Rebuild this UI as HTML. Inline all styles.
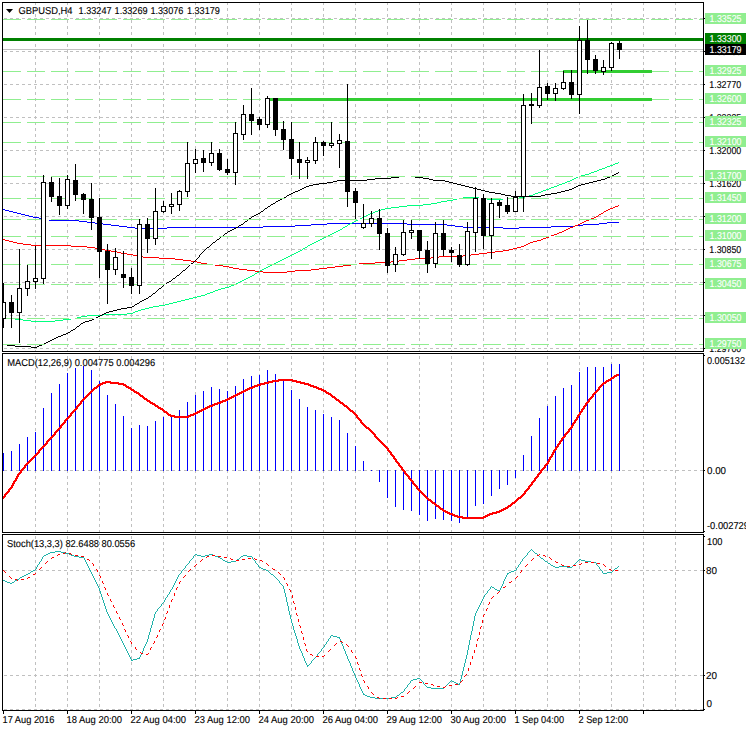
<!DOCTYPE html>
<html><head><meta charset="utf-8"><style>
html,body{margin:0;padding:0;background:#fff;}
svg{display:block;}
text{font-family:"Liberation Sans",sans-serif;font-size:10px;text-rendering:geometricPrecision;stroke-width:0.12px;}
</style></head><body>
<svg width="746" height="731" viewBox="0 0 746 731">
<rect width="746" height="731" fill="#fff"/>
<g shape-rendering="crispEdges"><g stroke="#c0c0c0" stroke-width="1"><line x1="35.5" y1="3" x2="35.5" y2="351" stroke-dasharray="3 3" stroke-dashoffset="1"/><line x1="67.5" y1="3" x2="67.5" y2="351" stroke-dasharray="3 3" stroke-dashoffset="1"/><line x1="99.5" y1="3" x2="99.5" y2="351" stroke-dasharray="3 3" stroke-dashoffset="1"/><line x1="131.5" y1="3" x2="131.5" y2="351" stroke-dasharray="3 3" stroke-dashoffset="1"/><line x1="163.5" y1="3" x2="163.5" y2="351" stroke-dasharray="3 3" stroke-dashoffset="1"/><line x1="195.5" y1="3" x2="195.5" y2="351" stroke-dasharray="3 3" stroke-dashoffset="1"/><line x1="227.5" y1="3" x2="227.5" y2="351" stroke-dasharray="3 3" stroke-dashoffset="1"/><line x1="259.5" y1="3" x2="259.5" y2="351" stroke-dasharray="3 3" stroke-dashoffset="1"/><line x1="291.5" y1="3" x2="291.5" y2="351" stroke-dasharray="3 3" stroke-dashoffset="1"/><line x1="323.5" y1="3" x2="323.5" y2="351" stroke-dasharray="3 3" stroke-dashoffset="1"/><line x1="355.5" y1="3" x2="355.5" y2="351" stroke-dasharray="3 3" stroke-dashoffset="1"/><line x1="387.5" y1="3" x2="387.5" y2="351" stroke-dasharray="3 3" stroke-dashoffset="1"/><line x1="419.5" y1="3" x2="419.5" y2="351" stroke-dasharray="3 3" stroke-dashoffset="1"/><line x1="451.5" y1="3" x2="451.5" y2="351" stroke-dasharray="3 3" stroke-dashoffset="1"/><line x1="483.5" y1="3" x2="483.5" y2="351" stroke-dasharray="3 3" stroke-dashoffset="1"/><line x1="515.5" y1="3" x2="515.5" y2="351" stroke-dasharray="3 3" stroke-dashoffset="1"/><line x1="547.5" y1="3" x2="547.5" y2="351" stroke-dasharray="3 3" stroke-dashoffset="1"/><line x1="579.5" y1="3" x2="579.5" y2="351" stroke-dasharray="3 3" stroke-dashoffset="1"/><line x1="611.5" y1="3" x2="611.5" y2="351" stroke-dasharray="3 3" stroke-dashoffset="1"/><line x1="643.5" y1="3" x2="643.5" y2="351" stroke-dasharray="3 3" stroke-dashoffset="1"/><line x1="675.5" y1="3" x2="675.5" y2="351" stroke-dasharray="3 3" stroke-dashoffset="1"/><line x1="35.5" y1="354" x2="35.5" y2="532" stroke-dasharray="3 3" stroke-dashoffset="4"/><line x1="67.5" y1="354" x2="67.5" y2="532" stroke-dasharray="3 3" stroke-dashoffset="4"/><line x1="99.5" y1="354" x2="99.5" y2="532" stroke-dasharray="3 3" stroke-dashoffset="4"/><line x1="131.5" y1="354" x2="131.5" y2="532" stroke-dasharray="3 3" stroke-dashoffset="4"/><line x1="163.5" y1="354" x2="163.5" y2="532" stroke-dasharray="3 3" stroke-dashoffset="4"/><line x1="195.5" y1="354" x2="195.5" y2="532" stroke-dasharray="3 3" stroke-dashoffset="4"/><line x1="227.5" y1="354" x2="227.5" y2="532" stroke-dasharray="3 3" stroke-dashoffset="4"/><line x1="259.5" y1="354" x2="259.5" y2="532" stroke-dasharray="3 3" stroke-dashoffset="4"/><line x1="291.5" y1="354" x2="291.5" y2="532" stroke-dasharray="3 3" stroke-dashoffset="4"/><line x1="323.5" y1="354" x2="323.5" y2="532" stroke-dasharray="3 3" stroke-dashoffset="4"/><line x1="355.5" y1="354" x2="355.5" y2="532" stroke-dasharray="3 3" stroke-dashoffset="4"/><line x1="387.5" y1="354" x2="387.5" y2="532" stroke-dasharray="3 3" stroke-dashoffset="4"/><line x1="419.5" y1="354" x2="419.5" y2="532" stroke-dasharray="3 3" stroke-dashoffset="4"/><line x1="451.5" y1="354" x2="451.5" y2="532" stroke-dasharray="3 3" stroke-dashoffset="4"/><line x1="483.5" y1="354" x2="483.5" y2="532" stroke-dasharray="3 3" stroke-dashoffset="4"/><line x1="515.5" y1="354" x2="515.5" y2="532" stroke-dasharray="3 3" stroke-dashoffset="4"/><line x1="547.5" y1="354" x2="547.5" y2="532" stroke-dasharray="3 3" stroke-dashoffset="4"/><line x1="579.5" y1="354" x2="579.5" y2="532" stroke-dasharray="3 3" stroke-dashoffset="4"/><line x1="611.5" y1="354" x2="611.5" y2="532" stroke-dasharray="3 3" stroke-dashoffset="4"/><line x1="643.5" y1="354" x2="643.5" y2="532" stroke-dasharray="3 3" stroke-dashoffset="4"/><line x1="675.5" y1="354" x2="675.5" y2="532" stroke-dasharray="3 3" stroke-dashoffset="4"/><line x1="35.5" y1="535" x2="35.5" y2="710" stroke-dasharray="3 3" stroke-dashoffset="5"/><line x1="67.5" y1="535" x2="67.5" y2="710" stroke-dasharray="3 3" stroke-dashoffset="5"/><line x1="99.5" y1="535" x2="99.5" y2="710" stroke-dasharray="3 3" stroke-dashoffset="5"/><line x1="131.5" y1="535" x2="131.5" y2="710" stroke-dasharray="3 3" stroke-dashoffset="5"/><line x1="163.5" y1="535" x2="163.5" y2="710" stroke-dasharray="3 3" stroke-dashoffset="5"/><line x1="195.5" y1="535" x2="195.5" y2="710" stroke-dasharray="3 3" stroke-dashoffset="5"/><line x1="227.5" y1="535" x2="227.5" y2="710" stroke-dasharray="3 3" stroke-dashoffset="5"/><line x1="259.5" y1="535" x2="259.5" y2="710" stroke-dasharray="3 3" stroke-dashoffset="5"/><line x1="291.5" y1="535" x2="291.5" y2="710" stroke-dasharray="3 3" stroke-dashoffset="5"/><line x1="323.5" y1="535" x2="323.5" y2="710" stroke-dasharray="3 3" stroke-dashoffset="5"/><line x1="355.5" y1="535" x2="355.5" y2="710" stroke-dasharray="3 3" stroke-dashoffset="5"/><line x1="387.5" y1="535" x2="387.5" y2="710" stroke-dasharray="3 3" stroke-dashoffset="5"/><line x1="419.5" y1="535" x2="419.5" y2="710" stroke-dasharray="3 3" stroke-dashoffset="5"/><line x1="451.5" y1="535" x2="451.5" y2="710" stroke-dasharray="3 3" stroke-dashoffset="5"/><line x1="483.5" y1="535" x2="483.5" y2="710" stroke-dasharray="3 3" stroke-dashoffset="5"/><line x1="515.5" y1="535" x2="515.5" y2="710" stroke-dasharray="3 3" stroke-dashoffset="5"/><line x1="547.5" y1="535" x2="547.5" y2="710" stroke-dasharray="3 3" stroke-dashoffset="5"/><line x1="579.5" y1="535" x2="579.5" y2="710" stroke-dasharray="3 3" stroke-dashoffset="5"/><line x1="611.5" y1="535" x2="611.5" y2="710" stroke-dasharray="3 3" stroke-dashoffset="5"/><line x1="643.5" y1="535" x2="643.5" y2="710" stroke-dasharray="3 3" stroke-dashoffset="5"/><line x1="675.5" y1="535" x2="675.5" y2="710" stroke-dasharray="3 3" stroke-dashoffset="5"/><line x1="3" y1="18.5" x2="703" y2="18.5" stroke-dasharray="3 3" stroke-dashoffset="5"/><line x1="3" y1="51.5" x2="703" y2="51.5" stroke-dasharray="3 3" stroke-dashoffset="5"/><line x1="3" y1="84.5" x2="703" y2="84.5" stroke-dasharray="3 3" stroke-dashoffset="5"/><line x1="3" y1="117.5" x2="703" y2="117.5" stroke-dasharray="3 3" stroke-dashoffset="5"/><line x1="3" y1="150.5" x2="703" y2="150.5" stroke-dasharray="3 3" stroke-dashoffset="5"/><line x1="3" y1="183.5" x2="703" y2="183.5" stroke-dasharray="3 3" stroke-dashoffset="5"/><line x1="3" y1="216.5" x2="703" y2="216.5" stroke-dasharray="3 3" stroke-dashoffset="5"/><line x1="3" y1="249.5" x2="703" y2="249.5" stroke-dasharray="3 3" stroke-dashoffset="5"/><line x1="3" y1="282.5" x2="703" y2="282.5" stroke-dasharray="3 3" stroke-dashoffset="5"/><line x1="3" y1="315.5" x2="703" y2="315.5" stroke-dasharray="3 3" stroke-dashoffset="5"/><line x1="3" y1="348.5" x2="703" y2="348.5" stroke-dasharray="3 3" stroke-dashoffset="5"/><line x1="3" y1="470.5" x2="703" y2="470.5" stroke-dasharray="3 3" stroke-dashoffset="5"/><line x1="3" y1="570.5" x2="703" y2="570.5" stroke-dasharray="3 3" stroke-dashoffset="5"/><line x1="3" y1="675.5" x2="703" y2="675.5" stroke-dasharray="3 3" stroke-dashoffset="5"/><line x1="3" y1="709.5" x2="703" y2="709.5" stroke-dasharray="3 3" stroke-dashoffset="5"/></g><path fill="#fff" d="M579 44h1v3h-1zM611 44h1v3h-1zM579 50h1v1h-1zM611 50h1v1h-1zM579 51h2v1h-2zM610 51h3v1h-3zM579 52h1v1h-1zM611 52h1v1h-1zM579 56h1v3h-1zM611 56h1v3h-1zM579 62h1v3h-1zM611 62h1v3h-1zM579 68h1v3h-1zM579 74h1v3h-1zM579 80h1v3h-1zM562 84h3v1h-3zM580 84h1v1h-1zM579 86h1v3h-1zM579 92h1v2h-1zM244 117h1v1h-1zM268 117h1v1h-1zM522 117h1v1h-1zM522 150h1v1h-1zM316 150h1v1h-1zM234 150h1v1h-1zM195 160h1v1h-1zM67 182h1v1h-1zM42 183h1v1h-1zM522 183h1v1h-1zM66 183h2v1h-2zM186 183h1v1h-1zM67 184h1v1h-1zM67 188h1v3h-1zM67 194h1v3h-1zM515 200h1v3h-1zM67 200h1v3h-1zM515 206h1v3h-1zM163 207h1v2h-1zM42 216h1v1h-1zM154 216h3v1h-3zM474 216h1v1h-1zM490 216h3v1h-3zM138 249h1v1h-1zM402 249h1v1h-1zM466 249h3v1h-3zM436 249h1v1h-1zM42 249h1v1h-1zM35 279h1v2h-1zM28 282h1v1h-1zM138 282h1v1h-1zM4 315h1v1h-1z"/><path fill="#000000" d="M2 2h702v1h-702zM703 3h1v15h-1zM703 18h2v1h-2zM587 20h1v20h-1zM579 26h1v14h-1zM577 40h5v1h-5zM619 41h1v2h-1zM611 42h1v1h-1zM609 43h5v1h-5zM617 43h5v7h-5zM703 19h1v32h-1zM703 51h2v1h-2zM619 50h1v9h-1zM595 55h1v4h-1zM585 40h5v20h-5zM613 44h1v23h-1zM609 44h1v23h-1zM603 60h1v7h-1zM609 67h5v1h-5zM601 67h5v1h-5zM593 59h5v12h-5zM611 68h1v3h-1zM601 68h1v3h-1zM605 68h1v3h-1zM601 71h5v1h-5zM587 60h1v14h-1zM595 71h1v3h-1zM603 72h1v3h-1zM571 70h1v12h-1zM563 71h1v11h-1zM561 82h5v1h-5zM703 52h1v32h-1zM703 84h2v1h-2zM547 83h1v3h-1zM539 50h1v37h-1zM565 83h1v5h-1zM555 83h1v5h-1zM561 83h1v5h-1zM537 87h5v1h-5zM561 88h5v1h-5zM553 88h5v1h-5zM563 89h1v1h-1zM553 89h1v4h-1zM557 89h1v4h-1zM581 41h1v53h-1zM577 41h1v53h-1zM545 86h5v8h-5zM553 93h5v1h-5zM569 82h5v13h-5zM577 94h5v1h-5zM267 96h1v2h-1zM571 95h1v4h-1zM265 98h5v1h-5zM547 94h1v6h-1zM555 94h1v7h-1zM531 93h1v11h-1zM537 88h1v17h-1zM541 88h1v17h-1zM523 94h1v11h-1zM529 104h5v2h-5zM537 105h5v1h-5zM521 105h5v1h-5zM539 106h1v2h-1zM251 88h1v26h-1zM579 95h1v19h-1zM243 105h1v9h-1zM241 114h5v1h-5zM703 85h1v32h-1zM703 117h2v1h-2zM259 117h1v2h-1zM249 114h5v7h-5zM269 99h1v25h-1zM265 99h1v25h-1zM531 106h1v18h-1zM257 119h5v6h-5zM265 124h5v1h-5zM267 125h1v3h-1zM283 121h1v8h-1zM273 98h5v32h-5zM259 125h1v5h-1zM235 122h1v11h-1zM241 115h1v19h-1zM245 115h1v19h-1zM233 133h5v1h-5zM251 121h1v14h-1zM241 134h5v1h-5zM275 130h1v6h-1zM291 122h1v17h-1zM281 129h5v11h-5zM339 134h1v6h-1zM243 135h1v5h-1zM347 84h1v57h-1zM337 140h5v1h-5zM315 137h1v5h-1zM323 141h1v1h-1zM331 122h1v21h-1zM341 141h1v2h-1zM337 141h1v2h-1zM313 142h5v1h-5zM329 143h5v1h-5zM337 143h5v1h-5zM333 144h1v1h-1zM329 144h1v1h-1zM321 142h5v4h-5zM329 145h5v1h-5zM331 146h1v2h-1zM703 118h1v32h-1zM283 140h1v10h-1zM703 150h2v1h-2zM211 142h1v11h-1zM219 149h1v4h-1zM209 153h5v1h-5zM323 146h1v10h-1zM203 150h1v8h-1zM289 139h5v20h-5zM299 142h1v17h-1zM195 149h1v10h-1zM317 143h1v17h-1zM313 143h1v17h-1zM307 157h1v3h-1zM193 159h5v1h-5zM313 160h5v1h-5zM305 160h5v1h-5zM209 154h1v8h-1zM213 154h1v8h-1zM309 161h1v1h-1zM305 161h1v1h-1zM187 142h1v21h-1zM201 158h5v5h-5zM297 159h5v4h-5zM197 160h1v3h-1zM193 160h1v3h-1zM305 162h5v1h-5zM209 162h5v1h-5zM315 161h1v3h-1zM193 163h5v1h-5zM185 163h5v1h-5zM211 163h1v3h-1zM339 144h1v24h-1zM227 159h1v10h-1zM217 153h5v17h-5zM219 170h1v1h-1zM237 134h1v38h-1zM233 134h1v38h-1zM203 163h1v9h-1zM195 164h1v9h-1zM225 169h5v4h-5zM233 172h5v1h-5zM618 172h1v1h-1zM616 173h2v1h-2zM291 159h1v16h-1zM227 173h1v2h-1zM614 174h2v1h-2zM612 175h2v1h-2zM391 177h8v1h-8zM607 177h3v1h-3zM415 177h8v1h-8zM299 163h1v16h-1zM307 163h1v16h-1zM67 175h1v4h-1zM375 178h16v1h-16zM605 178h2v1h-2zM423 178h6v1h-6zM345 141h5v39h-5zM75 164h1v16h-1zM367 179h8v1h-8zM429 179h4v1h-4zM65 179h5v1h-5zM601 179h4v1h-4zM597 180h4v1h-4zM337 180h30v1h-30zM433 180h12v1h-12zM43 175h1v7h-1zM51 177h1v5h-1zM333 181h4v1h-4zM593 181h4v1h-4zM445 181h4v1h-4zM703 151h1v32h-1zM449 182h4v1h-4zM41 182h5v1h-5zM589 182h4v1h-4zM327 182h6v1h-6zM453 183h4v1h-4zM703 183h2v1h-2zM319 183h8v1h-8zM585 183h4v1h-4zM235 173h1v12h-1zM457 184h4v1h-4zM581 184h4v1h-4zM313 184h6v1h-6zM309 185h4v1h-4zM461 185h4v1h-4zM578 185h3v1h-3zM306 186h3v1h-3zM576 186h2v1h-2zM465 186h4v1h-4zM475 187h1v1h-1zM574 187h2v1h-2zM304 187h2v1h-2zM469 187h4v1h-4zM473 188h4v1h-4zM572 188h2v1h-2zM302 188h2v1h-2zM477 189h4v1h-4zM300 189h2v1h-2zM569 189h3v1h-3zM189 164h1v27h-1zM185 164h1v27h-1zM355 188h1v3h-1zM481 190h4v1h-4zM179 190h1v1h-1zM565 190h4v1h-4zM298 190h2v1h-2zM345 181h5v11h-5zM295 191h3v1h-3zM485 191h4v1h-4zM185 191h5v1h-5zM561 191h4v1h-4zM177 191h5v1h-5zM489 192h6v1h-6zM557 192h4v1h-4zM293 192h2v1h-2zM291 193h2v1h-2zM83 193h1v1h-1zM495 193h6v1h-6zM551 193h6v1h-6zM73 180h5v15h-5zM545 194h6v1h-6zM501 194h4v1h-4zM289 194h2v1h-2zM525 106h1v90h-1zM521 106h1v90h-1zM59 178h1v18h-1zM515 191h1v5h-1zM541 195h4v1h-4zM287 195h2v1h-2zM505 195h6v1h-6zM49 182h5v15h-5zM187 192h1v5h-1zM511 196h30v1h-30zM286 196h1v1h-1zM475 189h1v9h-1zM483 194h1v4h-1zM284 197h2v1h-2zM513 197h5v1h-5zM91 183h1v16h-1zM473 198h5v1h-5zM81 194h5v6h-5zM280 199h2v1h-2zM75 195h1v6h-1zM278 200h2v1h-2zM51 197h1v5h-1zM499 200h1v2h-1zM276 201h2v1h-2zM353 191h5v12h-5zM491 198h1v5h-1zM275 202h1v1h-1zM181 192h1v12h-1zM177 192h1v12h-1zM171 193h1v11h-1zM273 203h2v1h-2zM489 203h5v1h-5zM65 180h1v25h-1zM69 180h1v25h-1zM507 197h1v8h-1zM271 204h2v1h-2zM177 204h5v1h-5zM169 204h5v1h-5zM57 196h5v10h-5zM163 201h1v5h-1zM497 202h5v4h-5zM173 205h1v1h-1zM169 205h1v1h-1zM65 205h5v1h-5zM270 205h1v1h-1zM347 192h1v15h-1zM161 206h5v1h-5zM268 206h2v1h-2zM169 206h5v1h-5zM267 207h1v1h-1zM67 206h1v3h-1zM265 208h2v1h-2zM264 209h1v1h-1zM155 188h1v23h-1zM517 198h1v13h-1zM513 198h1v13h-1zM179 205h1v6h-1zM165 207h1v4h-1zM161 207h1v4h-1zM263 210h1v1h-1zM523 197h1v15h-1zM505 205h5v7h-5zM161 211h5v1h-5zM153 211h5v1h-5zM261 211h2v1h-2zM513 211h5v1h-5zM163 212h1v1h-1zM260 212h1v1h-1zM83 200h1v14h-1zM171 207h1v7h-1zM507 212h1v2h-1zM258 213h2v1h-2zM59 206h1v9h-1zM256 214h2v1h-2zM703 184h1v32h-1zM254 215h2v1h-2zM99 198h1v19h-1zM703 216h2v1h-2zM252 216h2v1h-2zM89 199h5v19h-5zM499 206h1v12h-1zM379 209h1v9h-1zM371 211h1v7h-1zM251 217h1v1h-1zM355 203h1v16h-1zM249 218h2v1h-2zM369 218h5v1h-5zM247 220h1v1h-1zM245 221h2v1h-2zM363 204h1v19h-1zM373 219h1v4h-1zM369 219h1v4h-1zM244 222h1v1h-1zM147 218h1v6h-1zM139 219h1v5h-1zM243 223h1v1h-1zM369 223h5v1h-5zM361 223h5v1h-5zM137 224h5v1h-5zM241 224h2v1h-2zM239 225h2v1h-2zM361 224h1v3h-1zM371 224h1v3h-1zM365 224h1v3h-1zM238 226h1v1h-1zM236 227h2v1h-2zM361 227h5v1h-5zM234 228h2v1h-2zM363 228h1v1h-1zM91 218h1v12h-1zM411 220h1v10h-1zM232 229h2v1h-2zM467 222h1v9h-1zM230 230h2v1h-2zM409 230h5v1h-5zM477 199h1v33h-1zM473 199h1v33h-1zM403 220h1v12h-1zM465 231h5v1h-5zM413 231h1v1h-1zM409 231h1v1h-1zM228 231h2v1h-2zM443 220h1v13h-1zM435 222h1v11h-1zM387 228h1v5h-1zM473 232h5v1h-5zM409 232h5v1h-5zM401 232h5v1h-5zM227 232h1v1h-1zM377 218h5v16h-5zM225 233h2v1h-2zM433 233h5v1h-5zM489 204h1v31h-1zM493 204h1v31h-1zM224 234h1v1h-1zM481 198h5v38h-5zM489 235h5v1h-5zM223 235h1v1h-1zM157 212h1v26h-1zM153 212h1v26h-1zM220 237h1v1h-1zM145 224h5v15h-5zM411 233h1v6h-1zM219 238h1v1h-1zM153 238h5v1h-5zM217 239h2v1h-2zM216 240h1v1h-1zM215 241h1v1h-1zM213 242h2v1h-2zM212 243h1v1h-1zM155 239h1v6h-1zM211 244h1v1h-1zM210 245h1v1h-1zM209 246h1v1h-1zM207 247h2v1h-2zM703 217h1v32h-1zM483 236h1v13h-1zM206 248h1v1h-1zM441 233h5v17h-5zM379 234h1v16h-1zM427 241h1v9h-1zM451 247h1v3h-1zM205 249h1v1h-1zM703 249h2v1h-2zM417 230h5v21h-5zM107 244h1v7h-1zM204 250h1v1h-1zM97 217h5v35h-5zM475 233h1v19h-1zM203 251h1v1h-1zM147 239h1v14h-1zM449 250h5v3h-5zM202 252h1v1h-1zM405 233h1v21h-1zM401 233h1v21h-1zM395 247h1v7h-1zM201 253h1v1h-1zM459 244h1v11h-1zM200 254h1v1h-1zM401 254h5v1h-5zM393 254h5v1h-5zM443 250h1v6h-1zM403 255h1v1h-1zM115 248h1v9h-1zM199 255h1v2h-1zM198 257h1v1h-1zM113 257h5v1h-5zM491 236h1v23h-1zM419 251h1v8h-1zM197 258h1v1h-1zM196 259h1v1h-1zM195 260h1v1h-1zM451 253h1v9h-1zM194 261h1v1h-1zM437 234h1v29h-1zM433 234h1v29h-1zM193 262h1v1h-1zM469 232h1v32h-1zM465 232h1v32h-1zM425 250h5v14h-5zM397 255h1v9h-1zM393 255h1v9h-1zM433 263h5v1h-5zM191 263h2v1h-2zM457 255h5v10h-5zM465 264h5v1h-5zM393 264h5v1h-5zM385 233h5v33h-5zM467 265h1v1h-1zM189 265h1v1h-1zM459 265h1v2h-1zM188 266h1v1h-1zM435 264h1v4h-1zM187 267h1v1h-1zM113 258h1v11h-1zM117 258h1v11h-1zM186 268h1v1h-1zM105 251h5v19h-5zM113 269h5v1h-5zM185 269h1v1h-1zM183 270h2v1h-2zM395 265h1v7h-1zM182 271h1v1h-1zM427 264h1v9h-1zM387 266h1v7h-1zM181 272h1v1h-1zM123 251h1v23h-1zM180 273h1v1h-1zM115 270h1v5h-1zM179 274h1v1h-1zM177 275h2v1h-2zM131 268h1v9h-1zM176 276h1v1h-1zM45 183h1v95h-1zM41 183h1v95h-1zM35 246h1v32h-1zM99 252h1v26h-1zM121 274h5v4h-5zM175 277h1v1h-1zM173 278h2v1h-2zM41 278h5v1h-5zM33 278h5v1h-5zM172 279h1v1h-1zM27 265h1v16h-1zM37 279h1v2h-1zM33 279h1v2h-1zM171 280h1v1h-1zM703 250h1v32h-1zM169 281h2v1h-2zM33 281h5v1h-5zM25 281h5v1h-5zM2 3h1v280h-1zM703 282h2v1h-2zM167 282h2v1h-2zM43 279h1v5h-1zM166 283h1v1h-1zM141 225h1v60h-1zM137 225h1v60h-1zM129 277h5v9h-5zM163 285h1v1h-1zM137 285h5v1h-5zM162 286h1v1h-1zM19 249h1v39h-1zM123 278h1v10h-1zM25 282h1v6h-1zM29 282h1v6h-1zM161 287h1v1h-1zM35 282h1v7h-1zM159 288h2v1h-2zM17 288h5v1h-5zM25 288h5v1h-5zM158 289h1v1h-1zM157 290h1v1h-1zM156 291h1v1h-1zM155 292h1v1h-1zM131 286h1v8h-1zM139 286h1v8h-1zM153 293h2v1h-2zM152 294h1v1h-1zM27 289h1v7h-1zM151 295h1v1h-1zM149 296h2v1h-2zM148 297h1v1h-1zM146 298h2v1h-2zM144 299h2v1h-2zM142 300h2v1h-2zM2 283h2v19h-2zM11 295h1v7h-1zM140 301h2v1h-2zM2 302h4v1h-4zM139 302h1v1h-1zM107 270h1v34h-1zM137 303h2v1h-2zM135 304h2v1h-2zM134 305h1v1h-1zM132 306h2v1h-2zM127 307h5v1h-5zM121 308h6v1h-6zM117 309h4v1h-4zM113 310h4v1h-4zM21 289h1v23h-1zM17 289h1v23h-1zM109 311h4v1h-4zM9 302h5v11h-5zM106 312h3v1h-3zM17 312h5v1h-5zM104 313h2v1h-2zM703 283h1v32h-1zM102 314h2v1h-2zM703 315h2v1h-2zM100 315h2v1h-2zM98 316h2v1h-2zM2 303h1v15h-1zM5 303h1v15h-1zM96 317h2v1h-2zM2 318h4v1h-4zM92 319h2v1h-2zM89 320h3v1h-3zM85 321h4v1h-4zM83 322h2v1h-2zM81 323h2v1h-2zM80 324h1v1h-1zM79 325h1v1h-1zM77 326h2v1h-2zM11 313h1v15h-1zM2 319h2v9h-2zM76 327h1v1h-1zM75 328h1v1h-1zM73 329h2v1h-2zM71 330h2v1h-2zM70 331h1v1h-1zM68 332h2v1h-2zM66 333h2v1h-2zM63 334h3v1h-3zM61 335h2v1h-2zM58 336h3v1h-3zM56 337h2v1h-2zM54 338h2v1h-2zM52 339h2v1h-2zM50 340h2v1h-2zM48 341h2v1h-2zM19 313h1v30h-1zM46 342h2v1h-2zM44 343h2v1h-2zM39 345h3v1h-3zM7 345h8v1h-8zM37 346h2v1h-2zM15 346h16v1h-16zM703 316h1v32h-1zM31 347h6v1h-6zM703 348h2v1h-2zM2 328h1v23h-1zM703 349h1v2h-1zM2 351h702v1h-702zM2 353h702v1h-702zM703 354h1v1h-1zM703 355h2v1h-2zM703 356h1v114h-1zM703 470h2v1h-2zM703 471h1v60h-1zM2 354h1v178h-1zM703 531h2v1h-2zM2 532h702v1h-702zM2 534h702v1h-702zM703 535h1v1h-1zM703 536h2v1h-2zM703 537h1v33h-1zM703 570h2v1h-2zM703 571h1v104h-1zM703 675h2v1h-2zM703 676h1v33h-1zM2 535h1v175h-1zM703 709h2v1h-2zM2 710h702v1h-702zM515 711h1v3h-1zM579 711h1v3h-1zM643 711h1v3h-1zM67 711h1v3h-1zM3 711h1v3h-1zM387 711h1v3h-1zM259 711h1v3h-1zM131 711h1v3h-1zM195 711h1v3h-1zM323 711h1v3h-1zM451 711h1v3h-1z"/><path fill="#c0c0c0" d="M590 49h19v1h-19zM614 49h3v1h-3zM622 49h81v1h-81zM582 49h3v1h-3zM3 49h574v1h-574z"/><path fill="#90ee90" d="M483 19h18v1h-18zM267 19h18v1h-18zM387 19h18v1h-18zM171 19h18v1h-18zM603 19h18v1h-18zM411 19h18v1h-18zM195 19h18v1h-18zM507 19h18v1h-18zM291 19h18v1h-18zM75 19h18v1h-18zM315 19h18v1h-18zM99 19h18v1h-18zM219 19h18v1h-18zM3 19h18v1h-18zM435 19h18v1h-18zM627 19h18v1h-18zM339 19h18v1h-18zM123 19h18v1h-18zM531 19h18v1h-18zM27 19h18v1h-18zM699 19h4v1h-4zM651 19h18v1h-18zM555 19h18v1h-18zM243 19h18v1h-18zM147 19h18v1h-18zM51 19h18v1h-18zM675 19h18v1h-18zM459 19h18v1h-18zM579 19h18v1h-18zM363 19h18v1h-18zM555 71h8v1h-8zM483 71h18v1h-18zM267 71h18v1h-18zM387 71h18v1h-18zM171 71h18v1h-18zM652 71h17v1h-17zM411 71h18v1h-18zM195 71h18v1h-18zM507 71h18v1h-18zM291 71h18v1h-18zM75 71h18v1h-18zM540 71h9v1h-9zM315 71h18v1h-18zM99 71h18v1h-18zM219 71h18v1h-18zM3 71h18v1h-18zM435 71h18v1h-18zM339 71h18v1h-18zM123 71h18v1h-18zM27 71h18v1h-18zM699 71h4v1h-4zM243 71h18v1h-18zM147 71h18v1h-18zM51 71h18v1h-18zM531 71h8v1h-8zM675 71h18v1h-18zM459 71h18v1h-18zM363 71h18v1h-18zM652 99h17v1h-17zM195 99h18v1h-18zM243 99h8v1h-8zM75 99h18v1h-18zM147 99h18v1h-18zM51 99h18v1h-18zM252 99h9v1h-9zM699 99h4v1h-4zM123 99h18v1h-18zM171 99h18v1h-18zM27 99h18v1h-18zM675 99h18v1h-18zM99 99h18v1h-18zM219 99h18v1h-18zM3 99h18v1h-18zM532 122h17v1h-17zM315 122h16v1h-16zM483 122h18v1h-18zM219 122h16v1h-16zM387 122h18v1h-18zM171 122h18v1h-18zM603 122h18v1h-18zM411 122h18v1h-18zM195 122h18v1h-18zM75 122h18v1h-18zM284 122h1v1h-1zM99 122h18v1h-18zM3 122h18v1h-18zM507 122h14v1h-14zM348 122h9v1h-9zM435 122h18v1h-18zM627 122h18v1h-18zM270 122h3v1h-3zM123 122h18v1h-18zM278 122h5v1h-5zM27 122h18v1h-18zM699 122h4v1h-4zM332 122h1v1h-1zM651 122h18v1h-18zM246 122h5v1h-5zM555 122h18v1h-18zM579 122h18v1h-18zM147 122h18v1h-18zM292 122h17v1h-17zM51 122h18v1h-18zM236 122h1v1h-1zM339 122h8v1h-8zM675 122h18v1h-18zM459 122h18v1h-18zM252 122h5v1h-5zM363 122h18v1h-18zM483 142h18v1h-18zM318 142h3v1h-3zM294 142h5v1h-5zM387 142h18v1h-18zM326 142h5v1h-5zM342 142h3v1h-3zM300 142h9v1h-9zM411 142h18v1h-18zM603 142h18v1h-18zM75 142h18v1h-18zM284 142h1v1h-1zM188 142h1v1h-1zM99 142h18v1h-18zM3 142h18v1h-18zM212 142h1v1h-1zM507 142h14v1h-14zM435 142h18v1h-18zM627 142h18v1h-18zM531 142h18v1h-18zM123 142h18v1h-18zM27 142h18v1h-18zM699 142h4v1h-4zM332 142h1v1h-1zM651 142h18v1h-18zM555 142h18v1h-18zM350 142h7v1h-7zM579 142h18v1h-18zM267 142h16v1h-16zM243 142h18v1h-18zM219 142h14v1h-14zM171 142h16v1h-16zM147 142h18v1h-18zM51 142h18v1h-18zM675 142h18v1h-18zM459 142h18v1h-18zM195 142h16v1h-16zM363 142h18v1h-18zM44 176h1v1h-1zM483 176h18v1h-18zM267 176h18v1h-18zM219 176h16v1h-16zM387 176h18v1h-18zM68 176h1v1h-1zM603 176h18v1h-18zM411 176h18v1h-18zM195 176h18v1h-18zM27 176h16v1h-16zM171 176h14v1h-14zM315 176h18v1h-18zM99 176h18v1h-18zM51 176h16v1h-16zM3 176h18v1h-18zM339 176h6v1h-6zM291 176h8v1h-8zM308 176h1v1h-1zM507 176h14v1h-14zM435 176h18v1h-18zM627 176h18v1h-18zM531 176h18v1h-18zM123 176h18v1h-18zM76 176h17v1h-17zM699 176h4v1h-4zM651 176h18v1h-18zM555 176h18v1h-18zM350 176h7v1h-7zM243 176h18v1h-18zM147 176h18v1h-18zM236 176h1v1h-1zM675 176h18v1h-18zM459 176h18v1h-18zM300 176h7v1h-7zM579 176h18v1h-18zM363 176h18v1h-18zM492 198h9v1h-9zM147 198h8v1h-8zM518 198h5v1h-5zM267 198h18v1h-18zM387 198h18v1h-18zM182 198h7v1h-7zM459 198h14v1h-14zM62 198h3v1h-3zM411 198h18v1h-18zM195 198h18v1h-18zM603 198h18v1h-18zM291 198h18v1h-18zM315 198h18v1h-18zM52 198h5v1h-5zM219 198h18v1h-18zM3 198h18v1h-18zM524 198h1v1h-1zM92 198h1v1h-1zM172 198h5v1h-5zM435 198h18v1h-18zM627 198h18v1h-18zM76 198h5v1h-5zM123 198h18v1h-18zM531 198h18v1h-18zM699 198h4v1h-4zM651 198h18v1h-18zM508 198h5v1h-5zM555 198h18v1h-18zM156 198h9v1h-9zM86 198h5v1h-5zM243 198h18v1h-18zM339 198h8v1h-8zM348 198h5v1h-5zM675 198h18v1h-18zM486 198h5v1h-5zM579 198h18v1h-18zM363 198h18v1h-18zM100 198h17v1h-17zM27 198h14v1h-14zM102 219h15v1h-15zM494 219h7v1h-7zM267 219h18v1h-18zM387 219h18v1h-18zM171 219h18v1h-18zM459 219h14v1h-14zM603 219h18v1h-18zM148 219h5v1h-5zM195 219h18v1h-18zM374 219h3v1h-3zM123 219h16v1h-16zM291 219h18v1h-18zM411 219h18v1h-18zM507 219h18v1h-18zM364 219h5v1h-5zM315 219h18v1h-18zM219 219h18v1h-18zM3 219h18v1h-18zM92 219h1v1h-1zM435 219h18v1h-18zM486 219h3v1h-3zM627 219h18v1h-18zM339 219h18v1h-18zM531 219h18v1h-18zM699 219h4v1h-4zM651 219h18v1h-18zM555 219h18v1h-18zM243 219h18v1h-18zM51 219h18v1h-18zM140 219h1v1h-1zM675 219h18v1h-18zM579 219h18v1h-18zM158 219h7v1h-7zM75 219h16v1h-16zM27 219h14v1h-14zM102 236h15v1h-15zM492 236h9v1h-9zM390 236h11v1h-11zM267 236h18v1h-18zM171 236h18v1h-18zM123 236h14v1h-14zM476 236h1v1h-1zM380 236h1v1h-1zM438 236h3v1h-3zM603 236h18v1h-18zM195 236h18v1h-18zM507 236h18v1h-18zM291 236h18v1h-18zM75 236h18v1h-18zM315 236h18v1h-18zM150 236h3v1h-3zM470 236h5v1h-5zM219 236h18v1h-18zM3 236h18v1h-18zM422 236h7v1h-7zM627 236h18v1h-18zM446 236h7v1h-7zM363 236h16v1h-16zM339 236h18v1h-18zM531 236h18v1h-18zM699 236h4v1h-4zM651 236h18v1h-18zM555 236h18v1h-18zM243 236h18v1h-18zM51 236h18v1h-18zM459 236h6v1h-6zM484 236h7v1h-7zM412 236h5v1h-5zM675 236h18v1h-18zM579 236h18v1h-18zM158 236h7v1h-7zM27 236h14v1h-14zM483 264h18v1h-18zM267 264h18v1h-18zM436 264h17v1h-17zM3 264h16v1h-16zM171 264h18v1h-18zM398 264h7v1h-7zM603 264h18v1h-18zM195 264h18v1h-18zM507 264h18v1h-18zM291 264h18v1h-18zM75 264h18v1h-18zM462 264h3v1h-3zM315 264h18v1h-18zM219 264h18v1h-18zM124 264h13v1h-13zM36 264h5v1h-5zM627 264h18v1h-18zM339 264h18v1h-18zM531 264h18v1h-18zM110 264h3v1h-3zM699 264h4v1h-4zM428 264h1v1h-1zM651 264h18v1h-18zM20 264h1v1h-1zM555 264h18v1h-18zM390 264h3v1h-3zM243 264h18v1h-18zM470 264h7v1h-7zM147 264h18v1h-18zM51 264h18v1h-18zM100 264h5v1h-5zM675 264h18v1h-18zM27 264h8v1h-8zM411 264h16v1h-16zM579 264h18v1h-18zM363 264h18v1h-18zM124 284h5v1h-5zM134 284h3v1h-3zM483 284h18v1h-18zM267 284h18v1h-18zM387 284h18v1h-18zM171 284h18v1h-18zM603 284h18v1h-18zM411 284h18v1h-18zM195 284h18v1h-18zM507 284h18v1h-18zM291 284h18v1h-18zM75 284h18v1h-18zM108 284h9v1h-9zM315 284h18v1h-18zM219 284h18v1h-18zM435 284h18v1h-18zM627 284h18v1h-18zM30 284h5v1h-5zM36 284h9v1h-9zM339 284h18v1h-18zM531 284h18v1h-18zM699 284h4v1h-4zM651 284h18v1h-18zM20 284h1v1h-1zM555 284h18v1h-18zM99 284h8v1h-8zM243 284h18v1h-18zM4 284h15v1h-15zM147 284h18v1h-18zM51 284h18v1h-18zM675 284h18v1h-18zM459 284h18v1h-18zM579 284h18v1h-18zM363 284h18v1h-18zM12 318h7v1h-7zM483 318h18v1h-18zM267 318h18v1h-18zM387 318h18v1h-18zM171 318h18v1h-18zM603 318h18v1h-18zM411 318h18v1h-18zM195 318h18v1h-18zM507 318h18v1h-18zM6 318h5v1h-5zM75 318h18v1h-18zM291 318h18v1h-18zM315 318h18v1h-18zM99 318h18v1h-18zM219 318h18v1h-18zM435 318h18v1h-18zM627 318h18v1h-18zM339 318h18v1h-18zM123 318h18v1h-18zM531 318h18v1h-18zM27 318h18v1h-18zM699 318h4v1h-4zM651 318h18v1h-18zM20 318h1v1h-1zM555 318h18v1h-18zM243 318h18v1h-18zM147 318h18v1h-18zM51 318h18v1h-18zM675 318h18v1h-18zM459 318h18v1h-18zM579 318h18v1h-18zM363 318h18v1h-18zM483 344h18v1h-18zM267 344h18v1h-18zM387 344h18v1h-18zM171 344h18v1h-18zM603 344h18v1h-18zM411 344h18v1h-18zM195 344h18v1h-18zM507 344h18v1h-18zM291 344h18v1h-18zM75 344h18v1h-18zM315 344h18v1h-18zM99 344h18v1h-18zM219 344h18v1h-18zM3 344h18v1h-18zM435 344h18v1h-18zM627 344h18v1h-18zM339 344h18v1h-18zM123 344h18v1h-18zM531 344h18v1h-18zM27 344h18v1h-18zM699 344h4v1h-4zM651 344h18v1h-18zM555 344h18v1h-18zM243 344h18v1h-18zM147 344h18v1h-18zM51 344h18v1h-18zM675 344h18v1h-18zM459 344h18v1h-18zM579 344h18v1h-18zM363 344h18v1h-18z"/><path fill="#32cd32" d="M563 70h8v1h-8zM606 70h5v1h-5zM598 70h3v1h-3zM612 70h40v1h-40zM588 70h5v1h-5zM596 71h5v1h-5zM606 71h46v1h-46zM582 70h5v3h-5zM572 70h5v3h-5zM588 71h7v2h-7zM564 71h7v2h-7zM604 72h48v1h-48zM596 72h7v1h-7zM556 98h15v1h-15zM572 98h7v1h-7zM548 98h7v2h-7zM542 98h5v2h-5zM524 98h7v3h-7zM532 98h5v3h-5zM580 98h72v3h-72zM270 98h3v3h-3zM278 98h69v3h-69zM348 98h175v3h-175zM556 99h23v2h-23zM542 100h13v1h-13z"/><path fill="#008000" d="M588 38h115v2h-115zM3 38h576v2h-576zM580 38h7v2h-7zM590 40h113v1h-113zM582 40h3v1h-3zM3 40h574v1h-574z"/><path fill="#0000ff" d="M3 209h2v1h-2zM5 210h4v1h-4zM9 211h4v1h-4zM13 212h4v1h-4zM17 213h4v1h-4zM21 214h4v1h-4zM25 215h4v1h-4zM29 216h4v1h-4zM33 217h6v1h-6zM39 218h2v1h-2zM49 220h30v1h-30zM79 221h8v1h-8zM87 222h4v1h-4zM607 222h12v1h-12zM92 222h3v1h-3zM374 223h3v1h-3zM95 223h2v1h-2zM382 223h21v1h-21zM102 223h1v1h-1zM404 223h3v1h-3zM599 223h8v1h-8zM327 223h23v1h-23zM366 223h3v1h-3zM352 223h9v1h-9zM583 224h16v1h-16zM103 224h8v1h-8zM407 224h4v1h-4zM436 224h7v1h-7zM444 224h3v1h-3zM311 224h16v1h-16zM412 224h23v1h-23zM578 225h5v1h-5zM447 225h8v1h-8zM295 225h16v1h-16zM111 225h8v1h-8zM119 226h8v1h-8zM263 226h32v1h-32zM551 226h22v1h-22zM455 226h8v1h-8zM167 227h69v1h-69zM463 227h4v1h-4zM519 227h32v1h-32zM127 227h8v1h-8zM486 227h3v1h-3zM238 227h25v1h-25zM478 227h3v1h-3zM494 227h9v1h-9zM468 227h5v1h-5zM142 228h3v1h-3zM503 228h16v1h-16zM158 228h9v1h-9zM150 228h3v1h-3zM135 228h2v1h-2zM611 364h1v13h-1zM275 374h1v6h-1zM603 367h1v15h-1zM267 370h1v12h-1zM259 375h1v9h-1zM99 381h1v3h-1zM251 376h1v11h-1zM91 370h1v20h-1zM243 379h1v11h-1zM595 367h1v24h-1zM235 386h1v8h-1zM83 366h1v32h-1zM227 391h1v7h-1zM587 367h1v34h-1zM219 389h1v13h-1zM211 387h1v18h-1zM75 368h1v40h-1zM203 391h1v17h-1zM579 372h1v40h-1zM195 395h1v17h-1zM187 402h1v14h-1zM179 410h1v6h-1zM67 373h1v44h-1zM571 385h1v40h-1zM59 384h1v43h-1zM563 388h1v48h-1zM51 393h1v43h-1zM43 408h1v37h-1zM555 396h1v51h-1zM35 432h1v22h-1zM547 406h1v55h-1zM27 437h1v25h-1zM619 364h1v107h-1zM611 380h1v91h-1zM283 381h1v90h-1zM275 382h1v89h-1zM267 384h1v87h-1zM603 385h1v86h-1zM99 386h1v85h-1zM259 386h1v85h-1zM251 389h1v82h-1zM291 390h1v81h-1zM91 393h1v78h-1zM243 393h1v78h-1zM595 394h1v77h-1zM107 395h1v76h-1zM235 397h1v74h-1zM299 399h1v72h-1zM83 401h1v70h-1zM227 401h1v70h-1zM219 404h1v67h-1zM587 404h1v67h-1zM115 404h1v67h-1zM307 407h1v64h-1zM211 407h1v64h-1zM315 410h1v61h-1zM203 411h1v60h-1zM75 411h1v60h-1zM323 414h1v57h-1zM195 415h1v56h-1zM123 416h1v55h-1zM579 416h1v55h-1zM163 417h1v54h-1zM331 417h1v54h-1zM171 417h1v54h-1zM187 418h1v53h-1zM179 418h1v53h-1zM539 418h1v53h-1zM67 420h1v51h-1zM339 420h1v51h-1zM155 421h1v50h-1zM139 425h1v46h-1zM147 426h1v45h-1zM131 428h1v43h-1zM571 429h1v42h-1zM59 430h1v41h-1zM347 433h1v38h-1zM531 436h1v35h-1zM563 439h1v32h-1zM51 439h1v32h-1zM19 444h1v27h-1zM355 446h1v25h-1zM43 448h1v23h-1zM555 451h1v20h-1zM11 451h1v20h-1zM3 453h1v18h-1zM523 455h1v16h-1zM35 457h1v14h-1zM363 461h1v10h-1zM27 465h1v6h-1zM547 465h1v6h-1zM371 470h1v1h-1zM515 470h1v8h-1zM411 470h1v9h-1zM379 470h1v12h-1zM507 470h1v15h-1zM419 470h1v19h-1zM499 470h1v19h-1zM491 470h1v26h-1zM427 470h1v27h-1zM387 470h1v28h-1zM435 470h1v33h-1zM483 470h1v34h-1zM475 470h1v36h-1zM395 470h1v37h-1zM443 470h1v39h-1zM403 472h1v38h-1zM411 482h1v29h-1zM451 470h1v43h-1zM419 492h1v23h-1zM459 470h1v46h-1zM467 470h1v47h-1zM435 506h1v13h-1zM443 512h1v8h-1zM427 500h1v21h-1zM451 515h1v6h-1zM459 518h1v5h-1z"/><path fill="#ff0000" d="M618 205h1v1h-1zM615 206h3v1h-3zM613 207h2v1h-2zM610 208h3v1h-3zM608 209h2v1h-2zM606 210h2v1h-2zM604 211h2v1h-2zM603 212h1v1h-1zM601 213h2v1h-2zM599 214h2v1h-2zM598 215h1v1h-1zM596 216h2v1h-2zM594 217h2v1h-2zM591 218h3v1h-3zM586 220h3v1h-3zM584 221h2v1h-2zM582 222h2v1h-2zM580 223h2v1h-2zM578 224h2v1h-2zM575 225h3v1h-3zM573 226h2v1h-2zM570 227h3v1h-3zM568 228h2v1h-2zM566 229h2v1h-2zM564 230h2v1h-2zM562 231h2v1h-2zM559 232h3v1h-3zM557 233h2v1h-2zM554 234h3v1h-3zM551 235h3v1h-3zM546 237h3v1h-3zM543 238h3v1h-3zM541 239h2v1h-2zM3 239h2v1h-2zM5 240h4v1h-4zM537 240h4v1h-4zM533 241h4v1h-4zM9 241h4v1h-4zM13 242h4v1h-4zM530 242h3v1h-3zM17 243h6v1h-6zM528 243h2v1h-2zM526 244h2v1h-2zM23 244h8v1h-8zM524 245h2v1h-2zM31 245h10v1h-10zM46 245h25v1h-25zM71 246h16v1h-16zM521 246h3v1h-3zM87 247h8v1h-8zM517 247h4v1h-4zM95 248h2v1h-2zM513 248h4v1h-4zM102 249h3v1h-3zM509 249h4v1h-4zM503 250h6v1h-6zM108 250h3v1h-3zM105 250h2v1h-2zM111 251h4v1h-4zM116 251h1v1h-1zM495 251h8v1h-8zM492 252h3v1h-3zM117 252h4v1h-4zM487 252h4v1h-4zM124 253h3v1h-3zM121 253h2v1h-2zM479 253h8v1h-8zM127 254h6v1h-6zM471 254h8v1h-8zM463 255h2v1h-2zM133 255h4v1h-4zM470 255h1v1h-1zM462 256h1v1h-1zM452 256h5v1h-5zM142 256h1v1h-1zM439 256h12v1h-12zM438 257h1v1h-1zM431 257h2v1h-2zM143 257h16v1h-16zM415 258h4v1h-4zM420 258h5v1h-5zM159 258h16v1h-16zM430 258h1v1h-1zM407 259h8v1h-8zM175 259h8v1h-8zM399 260h8v1h-8zM183 260h8v1h-8zM398 261h1v1h-1zM391 261h2v1h-2zM195 261h2v1h-2zM191 261h3v1h-3zM197 262h4v1h-4zM375 262h10v1h-10zM390 262h1v1h-1zM359 263h16v1h-16zM201 263h6v1h-6zM343 265h8v1h-8zM215 265h8v1h-8zM335 266h8v1h-8zM223 266h6v1h-6zM229 267h4v1h-4zM327 267h8v1h-8zM233 268h6v1h-6zM319 268h8v1h-8zM311 269h8v1h-8zM239 269h8v1h-8zM247 270h8v1h-8zM295 270h16v1h-16zM260 271h3v1h-3zM287 271h8v1h-8zM255 271h4v1h-4zM263 272h24v1h-24zM616 374h3v1h-3zM614 375h5v1h-5zM613 376h4v1h-4zM611 377h4v1h-4zM610 378h4v1h-4zM278 379h15v1h-15zM608 379h4v1h-4zM606 380h5v1h-5zM272 380h25v1h-25zM268 381h11v1h-11zM105 381h6v1h-6zM605 381h4v1h-4zM292 381h9v1h-9zM296 382h9v1h-9zM264 382h9v1h-9zM102 382h17v1h-17zM603 382h4v1h-4zM110 383h14v1h-14zM300 383h9v1h-9zM100 383h6v1h-6zM602 383h4v1h-4zM260 383h9v1h-9zM257 384h8v1h-8zM601 384h3v1h-3zM118 384h8v1h-8zM98 384h5v1h-5zM304 384h7v1h-7zM97 385h4v1h-4zM254 385h7v1h-7zM308 385h6v1h-6zM600 385h3v1h-3zM123 385h4v1h-4zM599 386h3v1h-3zM252 386h6v1h-6zM96 386h3v1h-3zM310 386h7v1h-7zM125 386h4v1h-4zM249 387h6v1h-6zM598 387h3v1h-3zM94 387h4v1h-4zM126 387h5v1h-5zM313 387h6v1h-6zM128 388h4v1h-4zM316 388h6v1h-6zM247 388h6v1h-6zM93 388h4v1h-4zM598 388h2v1h-2zM318 389h6v1h-6zM130 389h4v1h-4zM597 389h3v1h-3zM92 389h3v1h-3zM245 389h5v1h-5zM321 390h5v1h-5zM91 390h3v1h-3zM243 390h5v1h-5zM596 390h3v1h-3zM131 390h4v1h-4zM595 391h3v1h-3zM241 391h5v1h-5zM90 391h3v1h-3zM133 391h4v1h-4zM323 391h4v1h-4zM325 392h4v1h-4zM239 392h5v1h-5zM594 392h3v1h-3zM89 392h3v1h-3zM134 392h5v1h-5zM237 393h5v1h-5zM593 393h3v1h-3zM88 393h3v1h-3zM136 393h4v1h-4zM326 393h5v1h-5zM592 394h3v1h-3zM87 394h3v1h-3zM328 394h4v1h-4zM138 394h3v1h-3zM235 394h5v1h-5zM592 395h2v1h-2zM233 395h5v1h-5zM330 395h3v1h-3zM86 395h3v1h-3zM139 395h4v1h-4zM331 396h4v1h-4zM85 396h3v1h-3zM231 396h5v1h-5zM140 396h4v1h-4zM591 396h3v1h-3zM142 397h3v1h-3zM590 397h3v1h-3zM84 397h3v1h-3zM229 397h5v1h-5zM332 397h4v1h-4zM227 398h5v1h-5zM334 398h3v1h-3zM83 398h3v1h-3zM589 398h3v1h-3zM143 398h4v1h-4zM144 399h4v1h-4zM335 399h4v1h-4zM588 399h3v1h-3zM225 399h5v1h-5zM82 399h3v1h-3zM146 400h4v1h-4zM81 400h3v1h-3zM222 400h6v1h-6zM336 400h4v1h-4zM588 400h2v1h-2zM220 401h6v1h-6zM338 401h3v1h-3zM147 401h4v1h-4zM587 401h3v1h-3zM80 401h3v1h-3zM586 402h3v1h-3zM217 402h6v1h-6zM149 402h4v1h-4zM339 402h4v1h-4zM80 402h2v1h-2zM150 403h5v1h-5zM585 403h3v1h-3zM340 403h4v1h-4zM79 403h3v1h-3zM214 403h7v1h-7zM342 404h3v1h-3zM152 404h4v1h-4zM78 404h3v1h-3zM585 404h2v1h-2zM212 404h6v1h-6zM154 405h4v1h-4zM343 405h4v1h-4zM584 405h3v1h-3zM209 405h6v1h-6zM77 405h3v1h-3zM583 406h3v1h-3zM207 406h6v1h-6zM344 406h4v1h-4zM155 406h4v1h-4zM76 406h3v1h-3zM76 407h2v1h-2zM583 407h2v1h-2zM157 407h4v1h-4zM205 407h5v1h-5zM346 407h3v1h-3zM582 408h3v1h-3zM347 408h3v1h-3zM158 408h5v1h-5zM203 408h5v1h-5zM75 408h3v1h-3zM201 409h5v1h-5zM160 409h4v1h-4zM348 409h3v1h-3zM74 409h3v1h-3zM581 409h3v1h-3zM162 410h3v1h-3zM349 410h4v1h-4zM73 410h3v1h-3zM199 410h5v1h-5zM581 410h2v1h-2zM350 411h4v1h-4zM163 411h4v1h-4zM72 411h3v1h-3zM197 411h5v1h-5zM580 411h3v1h-3zM164 412h4v1h-4zM71 412h3v1h-3zM195 412h5v1h-5zM579 412h3v1h-3zM352 412h3v1h-3zM193 413h5v1h-5zM70 413h3v1h-3zM166 413h3v1h-3zM579 413h2v1h-2zM353 413h3v1h-3zM167 414h4v1h-4zM354 414h3v1h-3zM190 414h6v1h-6zM578 414h3v1h-3zM70 414h2v1h-2zM69 415h3v1h-3zM188 415h6v1h-6zM168 415h7v1h-7zM355 415h3v1h-3zM577 415h3v1h-3zM577 416h2v1h-2zM68 416h3v1h-3zM356 416h2v1h-2zM170 416h21v1h-21zM67 417h3v1h-3zM174 417h15v1h-15zM356 417h3v1h-3zM576 417h3v1h-3zM357 418h3v1h-3zM66 418h3v1h-3zM576 418h2v1h-2zM575 419h3v1h-3zM65 419h3v1h-3zM358 419h3v1h-3zM64 420h3v1h-3zM359 420h3v1h-3zM574 420h3v1h-3zM64 421h2v1h-2zM574 421h2v1h-2zM360 421h2v1h-2zM360 422h3v1h-3zM573 422h3v1h-3zM63 422h3v1h-3zM62 423h3v1h-3zM361 423h3v1h-3zM572 423h3v1h-3zM362 424h3v1h-3zM572 424h2v1h-2zM61 424h3v1h-3zM60 425h3v1h-3zM571 425h3v1h-3zM363 425h3v1h-3zM364 426h3v1h-3zM60 426h2v1h-2zM571 426h2v1h-2zM570 427h3v1h-3zM59 427h3v1h-3zM365 427h4v1h-4zM58 428h3v1h-3zM569 428h3v1h-3zM366 428h4v1h-4zM57 429h3v1h-3zM568 429h3v1h-3zM368 429h3v1h-3zM568 430h2v1h-2zM369 430h3v1h-3zM56 430h3v1h-3zM567 431h3v1h-3zM55 431h3v1h-3zM370 431h3v1h-3zM371 432h3v1h-3zM566 432h3v1h-3zM54 432h3v1h-3zM372 433h3v1h-3zM54 433h2v1h-2zM565 433h3v1h-3zM53 434h3v1h-3zM564 434h3v1h-3zM373 434h3v1h-3zM564 435h2v1h-2zM374 435h2v1h-2zM52 435h3v1h-3zM51 436h3v1h-3zM374 436h3v1h-3zM563 436h3v1h-3zM375 437h3v1h-3zM562 437h3v1h-3zM50 437h3v1h-3zM49 438h3v1h-3zM561 438h3v1h-3zM376 438h3v1h-3zM377 439h3v1h-3zM561 439h2v1h-2zM48 439h3v1h-3zM560 440h3v1h-3zM378 440h3v1h-3zM47 440h3v1h-3zM379 441h3v1h-3zM46 441h3v1h-3zM559 441h3v1h-3zM46 442h2v1h-2zM559 442h2v1h-2zM380 442h3v1h-3zM558 443h3v1h-3zM381 443h3v1h-3zM45 443h3v1h-3zM557 444h3v1h-3zM44 444h3v1h-3zM382 444h3v1h-3zM557 445h2v1h-2zM383 445h3v1h-3zM43 445h3v1h-3zM384 446h3v1h-3zM42 446h3v1h-3zM556 446h3v1h-3zM555 447h3v1h-3zM385 447h3v1h-3zM41 447h3v1h-3zM40 448h3v1h-3zM555 448h2v1h-2zM386 448h3v1h-3zM387 449h2v1h-2zM39 449h3v1h-3zM554 449h3v1h-3zM38 450h3v1h-3zM553 450h3v1h-3zM387 450h3v1h-3zM38 451h2v1h-2zM388 451h3v1h-3zM553 451h2v1h-2zM552 452h3v1h-3zM37 452h3v1h-3zM389 452h3v1h-3zM36 453h3v1h-3zM390 453h2v1h-2zM552 453h2v1h-2zM551 454h3v1h-3zM390 454h3v1h-3zM35 454h3v1h-3zM34 455h3v1h-3zM551 455h2v1h-2zM391 455h3v1h-3zM33 456h3v1h-3zM392 456h3v1h-3zM550 456h3v1h-3zM549 457h3v1h-3zM32 457h3v1h-3zM393 457h2v1h-2zM393 458h3v1h-3zM31 458h3v1h-3zM549 458h2v1h-2zM394 459h3v1h-3zM548 459h3v1h-3zM30 459h3v1h-3zM29 460h3v1h-3zM548 460h2v1h-2zM395 460h2v1h-2zM395 461h3v1h-3zM547 461h3v1h-3zM28 461h3v1h-3zM27 462h3v1h-3zM396 462h3v1h-3zM547 462h2v1h-2zM397 463h3v1h-3zM26 463h3v1h-3zM546 463h3v1h-3zM25 464h3v1h-3zM398 464h2v1h-2zM545 464h3v1h-3zM24 465h3v1h-3zM398 465h3v1h-3zM544 465h3v1h-3zM399 466h3v1h-3zM24 466h2v1h-2zM544 466h2v1h-2zM543 467h3v1h-3zM400 467h3v1h-3zM23 467h3v1h-3zM401 468h2v1h-2zM22 468h3v1h-3zM542 468h3v1h-3zM401 469h3v1h-3zM541 469h3v1h-3zM21 469h3v1h-3zM540 470h3v1h-3zM20 470h3v1h-3zM402 470h3v1h-3zM20 471h2v1h-2zM403 471h3v1h-3zM540 471h2v1h-2zM19 472h3v1h-3zM539 472h3v1h-3zM404 472h2v1h-2zM404 473h3v1h-3zM18 473h3v1h-3zM538 473h3v1h-3zM537 474h3v1h-3zM405 474h3v1h-3zM17 474h3v1h-3zM537 475h2v1h-2zM17 475h2v1h-2zM406 475h3v1h-3zM16 476h3v1h-3zM407 476h3v1h-3zM536 476h3v1h-3zM408 477h2v1h-2zM535 477h3v1h-3zM16 477h2v1h-2zM534 478h3v1h-3zM408 478h3v1h-3zM15 478h3v1h-3zM15 479h2v1h-2zM534 479h2v1h-2zM409 479h3v1h-3zM410 480h3v1h-3zM533 480h3v1h-3zM14 480h3v1h-3zM13 481h3v1h-3zM411 481h3v1h-3zM532 481h3v1h-3zM412 482h2v1h-2zM13 482h2v1h-2zM531 482h3v1h-3zM531 483h2v1h-2zM412 483h3v1h-3zM12 483h3v1h-3zM530 484h3v1h-3zM12 484h2v1h-2zM413 484h3v1h-3zM529 485h3v1h-3zM11 485h3v1h-3zM414 485h3v1h-3zM11 486h2v1h-2zM528 486h3v1h-3zM415 486h3v1h-3zM416 487h2v1h-2zM528 487h2v1h-2zM10 487h3v1h-3zM527 488h3v1h-3zM9 488h3v1h-3zM416 488h3v1h-3zM417 489h3v1h-3zM526 489h3v1h-3zM8 489h3v1h-3zM525 490h3v1h-3zM8 490h2v1h-2zM418 490h3v1h-3zM7 491h3v1h-3zM419 491h3v1h-3zM524 491h3v1h-3zM524 492h2v1h-2zM6 492h3v1h-3zM420 492h3v1h-3zM421 493h3v1h-3zM523 493h3v1h-3zM5 493h3v1h-3zM522 494h3v1h-3zM4 494h3v1h-3zM422 494h3v1h-3zM423 495h3v1h-3zM4 495h2v1h-2zM521 495h3v1h-3zM520 496h3v1h-3zM424 496h3v1h-3zM3 496h3v1h-3zM425 497h3v1h-3zM518 497h4v1h-4zM3 497h2v1h-2zM426 498h3v1h-3zM3 498h1v1h-1zM517 498h4v1h-4zM516 499h3v1h-3zM427 499h4v1h-4zM428 500h4v1h-4zM515 500h3v1h-3zM514 501h3v1h-3zM430 501h3v1h-3zM512 502h4v1h-4zM431 502h4v1h-4zM432 503h4v1h-4zM511 503h4v1h-4zM434 504h3v1h-3zM510 504h3v1h-3zM435 505h4v1h-4zM508 505h4v1h-4zM507 506h4v1h-4zM436 506h4v1h-4zM505 507h4v1h-4zM438 507h3v1h-3zM503 508h5v1h-5zM439 508h4v1h-4zM501 509h5v1h-5zM440 509h4v1h-4zM442 510h4v1h-4zM499 510h5v1h-5zM443 511h5v1h-5zM496 511h6v1h-6zM492 512h8v1h-8zM445 512h5v1h-5zM447 513h6v1h-6zM489 513h8v1h-8zM449 514h6v1h-6zM487 514h6v1h-6zM485 515h5v1h-5zM452 515h6v1h-6zM454 516h9v1h-9zM483 516h5v1h-5zM457 517h29v1h-29zM462 518h22v1h-22zM65 552h1v1h-1zM63 553h2v1h-2zM69 553h2v1h-2zM71 554h1v1h-1zM539 554h1v1h-1zM58 554h2v1h-2zM57 555h1v1h-1zM537 555h2v1h-2zM543 555h2v1h-2zM212 555h3v1h-3zM75 555h3v1h-3zM207 556h2v1h-2zM218 556h3v1h-3zM81 556h3v1h-3zM545 556h1v1h-1zM206 557h1v1h-1zM52 557h2v1h-2zM224 557h3v1h-3zM549 557h1v1h-1zM550 558h1v1h-1zM254 558h1v1h-1zM248 558h3v1h-3zM533 558h1v1h-1zM230 558h1v1h-1zM51 558h1v1h-1zM255 559h2v1h-2zM242 559h3v1h-3zM551 559h1v1h-1zM231 559h2v1h-2zM532 559h1v1h-1zM87 559h2v1h-2zM202 559h1v1h-1zM260 560h2v1h-2zM201 560h1v1h-1zM89 560h1v1h-1zM531 560h1v1h-1zM236 560h3v1h-3zM262 561h1v1h-1zM200 561h1v1h-1zM555 561h1v1h-1zM47 561h1v1h-1zM591 562h3v1h-3zM46 562h1v1h-1zM585 562h3v1h-3zM556 562h2v1h-2zM581 563h1v1h-1zM45 563h1v1h-1zM266 563h1v1h-1zM92 563h1v1h-1zM597 563h3v1h-3zM603 564h1v1h-1zM527 564h1v1h-1zM561 564h1v1h-1zM267 564h1v1h-1zM196 564h1v1h-1zM579 564h2v1h-2zM93 564h1v2h-1zM562 565h2v1h-2zM604 565h1v1h-1zM573 565h3v1h-3zM526 565h1v1h-1zM195 565h1v1h-1zM268 565h1v1h-1zM567 566h3v1h-3zM605 566h1v1h-1zM525 566h1v1h-1zM194 566h1v1h-1zM41 567h1v1h-1zM272 568h1v1h-1zM40 568h1v1h-1zM273 569h2v1h-2zM190 569h1v1h-1zM609 569h2v1h-2zM39 569h1v1h-1zM96 569h1v1h-1zM615 570h3v1h-3zM611 570h1v1h-1zM3 570h1v1h-1zM189 570h1v1h-1zM521 570h1v2h-1zM97 570h1v2h-1zM4 571h1v1h-1zM188 571h1v1h-1zM520 572h1v1h-1zM5 572h1v1h-1zM278 572h1v1h-1zM35 573h1v1h-1zM279 573h1v1h-1zM33 574h2v1h-2zM280 574h1v1h-1zM99 575h1v1h-1zM185 575h1v1h-1zM9 576h1v1h-1zM517 576h1v1h-1zM184 576h1v1h-1zM100 576h1v2h-1zM10 577h1v1h-1zM283 577h1v1h-1zM183 577h1v1h-1zM516 577h1v1h-1zM28 577h2v1h-2zM11 578h1v1h-1zM515 578h1v1h-1zM27 578h1v1h-1zM284 578h1v2h-1zM15 579h2v1h-2zM21 579h3v1h-3zM17 580h1v1h-1zM511 581h1v1h-1zM180 581h1v1h-1zM102 581h1v2h-1zM509 582h2v1h-2zM179 582h1v2h-1zM103 583h1v1h-1zM286 583h1v1h-1zM287 584h1v2h-1zM505 586h1v1h-1zM503 587h2v1h-2zM177 587h1v1h-1zM104 587h1v1h-1zM176 588h1v2h-1zM105 588h1v2h-1zM289 589h1v1h-1zM290 590h1v2h-1zM499 591h1v1h-1zM498 592h1v1h-1zM497 593h1v1h-1zM107 593h1v2h-1zM174 593h1v3h-1zM108 595h1v1h-1zM493 596h1v1h-1zM292 595h1v3h-1zM492 597h1v1h-1zM491 598h1v1h-1zM172 599h1v1h-1zM110 599h1v2h-1zM171 600h1v2h-1zM111 601h1v1h-1zM293 601h1v2h-1zM489 602h1v2h-1zM294 603h1v1h-1zM488 604h1v1h-1zM113 605h1v2h-1zM169 605h1v3h-1zM114 607h1v1h-1zM487 608h1v1h-1zM295 607h1v3h-1zM486 609h1v2h-1zM167 611h1v2h-1zM116 611h1v2h-1zM166 613h1v1h-1zM117 613h1v1h-1zM296 613h1v2h-1zM484 614h1v1h-1zM297 615h1v1h-1zM483 615h1v2h-1zM165 617h1v2h-1zM119 617h1v2h-1zM164 619h1v1h-1zM120 619h1v1h-1zM298 619h1v3h-1zM482 620h1v3h-1zM163 623h1v1h-1zM122 623h1v2h-1zM162 624h1v2h-1zM123 625h1v1h-1zM299 625h1v1h-1zM481 626h1v1h-1zM300 626h1v2h-1zM480 627h1v2h-1zM160 629h1v1h-1zM124 629h1v1h-1zM125 630h1v2h-1zM159 630h1v2h-1zM301 631h1v2h-1zM302 633h1v1h-1zM479 632h1v3h-1zM127 635h1v1h-1zM157 635h1v2h-1zM128 636h1v2h-1zM156 637h1v1h-1zM478 638h1v1h-1zM303 637h1v3h-1zM477 639h1v2h-1zM130 641h1v1h-1zM340 641h2v1h-2zM154 641h1v2h-1zM342 642h1v1h-1zM131 642h1v2h-1zM304 643h1v1h-1zM336 643h1v1h-1zM153 643h1v1h-1zM346 644h1v1h-1zM335 644h1v1h-1zM305 644h1v2h-1zM334 645h1v1h-1zM347 645h1v1h-1zM476 644h1v3h-1zM348 646h1v1h-1zM151 647h1v1h-1zM135 647h1v2h-1zM150 648h1v2h-1zM136 649h1v1h-1zM330 649h1v1h-1zM306 649h1v2h-1zM329 650h1v1h-1zM351 650h1v2h-1zM328 651h1v1h-1zM307 651h1v1h-1zM474 650h1v3h-1zM352 652h1v1h-1zM140 652h1v1h-1zM141 653h2v1h-2zM148 653h1v1h-1zM146 654h2v1h-2zM310 654h2v1h-2zM312 655h1v1h-1zM324 655h1v1h-1zM322 656h2v1h-2zM316 656h3v1h-3zM355 656h1v2h-1zM472 656h1v3h-1zM356 658h1v1h-1zM357 662h1v2h-1zM470 662h1v3h-1zM358 664h1v1h-1zM359 668h1v2h-1zM468 668h1v3h-1zM360 670h1v1h-1zM466 674h1v1h-1zM361 674h1v2h-1zM465 675h1v1h-1zM464 676h1v1h-1zM362 676h1v1h-1zM363 680h1v1h-1zM462 680h1v1h-1zM461 681h1v1h-1zM364 681h1v2h-1zM419 682h3v1h-3zM460 682h1v1h-1zM425 683h3v1h-3zM431 684h2v1h-2zM455 684h3v1h-3zM449 685h3v1h-3zM433 685h1v1h-1zM445 686h1v1h-1zM367 686h1v1h-1zM415 686h1v1h-1zM437 686h3v1h-3zM414 687h1v1h-1zM443 687h2v1h-2zM368 687h1v2h-1zM413 688h1v1h-1zM409 691h1v1h-1zM371 692h1v1h-1zM408 692h1v1h-1zM372 693h1v1h-1zM407 693h1v1h-1zM373 694h1v1h-1zM401 696h3v1h-3zM397 697h1v1h-1zM377 697h2v1h-2zM379 698h1v1h-1zM395 698h2v1h-2zM383 698h3v1h-3zM389 698h3v1h-3z"/><path fill="#00ff7f" d="M618 162h1v1h-1zM615 163h3v1h-3zM613 164h2v1h-2zM610 165h3v1h-3zM607 166h3v1h-3zM605 167h2v1h-2zM602 168h3v1h-3zM599 169h3v1h-3zM597 170h2v1h-2zM594 171h3v1h-3zM591 172h3v1h-3zM589 173h2v1h-2zM585 174h4v1h-4zM581 175h4v1h-4zM576 177h2v1h-2zM574 178h2v1h-2zM572 179h2v1h-2zM570 180h2v1h-2zM567 181h3v1h-3zM565 182h2v1h-2zM562 183h3v1h-3zM559 184h3v1h-3zM557 185h2v1h-2zM554 186h3v1h-3zM551 187h3v1h-3zM549 188h2v1h-2zM546 189h3v1h-3zM543 190h3v1h-3zM541 191h2v1h-2zM538 192h3v1h-3zM535 193h3v1h-3zM533 194h2v1h-2zM529 195h4v1h-4zM524 197h1v1h-1zM476 197h3v1h-3zM463 197h12v1h-12zM519 197h4v1h-4zM492 199h11v1h-11zM487 199h4v1h-4zM453 199h4v1h-4zM447 200h6v1h-6zM441 201h6v1h-6zM437 202h4v1h-4zM431 203h6v1h-6zM423 204h8v1h-8zM407 205h16v1h-16zM399 206h8v1h-8zM391 207h8v1h-8zM385 208h6v1h-6zM381 209h4v1h-4zM378 210h1v1h-1zM380 210h1v1h-1zM375 211h3v1h-3zM373 212h2v1h-2zM370 213h1v1h-1zM372 213h1v1h-1zM368 214h2v1h-2zM366 215h2v1h-2zM364 216h2v1h-2zM362 217h1v1h-1zM360 218h2v1h-2zM356 220h2v1h-2zM354 221h2v1h-2zM352 222h2v1h-2zM350 223h2v1h-2zM348 224h2v1h-2zM347 225h1v1h-1zM345 226h2v1h-2zM343 227h2v1h-2zM342 228h1v1h-1zM340 229h2v1h-2zM338 230h2v1h-2zM336 231h2v1h-2zM334 232h2v1h-2zM332 233h2v1h-2zM330 234h2v1h-2zM328 235h2v1h-2zM324 237h2v1h-2zM322 238h2v1h-2zM320 239h2v1h-2zM318 240h2v1h-2zM316 241h2v1h-2zM314 242h2v1h-2zM312 243h2v1h-2zM310 244h2v1h-2zM308 245h2v1h-2zM307 246h1v1h-1zM305 247h2v1h-2zM303 248h2v1h-2zM302 249h1v1h-1zM300 250h2v1h-2zM298 251h2v1h-2zM296 252h2v1h-2zM294 253h2v1h-2zM292 254h2v1h-2zM290 255h2v1h-2zM288 256h2v1h-2zM286 257h2v1h-2zM284 258h2v1h-2zM282 259h2v1h-2zM280 260h2v1h-2zM278 261h2v1h-2zM276 262h2v1h-2zM274 263h2v1h-2zM270 265h2v1h-2zM268 266h2v1h-2zM266 267h2v1h-2zM264 268h2v1h-2zM262 269h2v1h-2zM260 270h2v1h-2zM259 271h1v1h-1zM257 272h2v1h-2zM255 273h2v1h-2zM254 274h1v1h-1zM252 275h2v1h-2zM250 276h2v1h-2zM248 277h2v1h-2zM246 278h2v1h-2zM244 279h2v1h-2zM242 280h2v1h-2zM240 281h2v1h-2zM238 282h2v1h-2zM236 283h2v1h-2zM231 285h3v1h-3zM229 286h2v1h-2zM225 287h4v1h-4zM221 288h4v1h-4zM218 289h3v1h-3zM215 290h3v1h-3zM213 291h2v1h-2zM210 292h3v1h-3zM207 293h3v1h-3zM205 294h2v1h-2zM201 295h4v1h-4zM197 296h4v1h-4zM193 297h4v1h-4zM189 298h4v1h-4zM185 299h4v1h-4zM181 300h4v1h-4zM177 301h4v1h-4zM173 302h4v1h-4zM169 303h4v1h-4zM165 304h4v1h-4zM159 305h6v1h-6zM153 306h6v1h-6zM149 307h4v1h-4zM145 308h4v1h-4zM141 309h4v1h-4zM138 310h3v1h-3zM135 311h3v1h-3zM133 312h2v1h-2zM127 313h6v1h-6zM104 314h23v1h-23zM102 315h1v1h-1zM87 315h13v1h-13zM81 316h6v1h-6zM77 317h4v1h-4zM20 319h3v1h-3zM15 319h4v1h-4zM63 319h8v1h-8zM55 320h8v1h-8zM23 320h8v1h-8zM31 321h24v1h-24z"/><path fill="#20b2aa" d="M531 549h1v1h-1zM532 550h1v1h-1zM530 550h1v1h-1zM533 551h1v1h-1zM55 551h6v1h-6zM529 551h1v1h-1zM50 552h5v1h-5zM528 552h1v1h-1zM534 552h1v1h-1zM61 552h4v1h-4zM48 553h2v1h-2zM535 553h2v1h-2zM65 553h4v1h-4zM527 553h1v2h-1zM195 554h2v1h-2zM69 554h2v1h-2zM46 554h2v1h-2zM537 554h1v1h-1zM209 554h4v1h-4zM197 555h4v1h-4zM44 555h2v1h-2zM71 555h3v1h-3zM526 555h1v1h-1zM243 555h4v1h-4zM194 555h1v1h-1zM205 555h4v1h-4zM201 556h4v1h-4zM215 556h3v1h-3zM525 556h1v1h-1zM241 556h2v1h-2zM74 556h5v1h-5zM43 556h1v1h-1zM539 556h1v1h-1zM247 556h5v1h-5zM193 556h1v2h-1zM218 557h2v1h-2zM540 557h1v1h-1zM79 557h5v1h-5zM524 557h1v1h-1zM240 557h1v1h-1zM42 557h1v2h-1zM252 557h1v2h-1zM192 558h1v1h-1zM220 558h2v1h-2zM523 558h1v1h-1zM541 558h2v1h-2zM239 558h1v1h-1zM84 558h1v2h-1zM222 559h1v1h-1zM543 559h1v1h-1zM253 559h1v1h-1zM191 559h1v1h-1zM579 559h2v1h-2zM237 559h2v1h-2zM41 559h1v2h-1zM522 559h1v2h-1zM254 560h1v1h-1zM190 560h1v1h-1zM581 560h4v1h-4zM578 560h1v1h-1zM223 560h2v1h-2zM544 560h1v1h-1zM85 560h1v2h-1zM231 561h5v1h-5zM545 561h2v1h-2zM585 561h6v1h-6zM577 561h1v1h-1zM40 561h1v1h-1zM225 561h2v1h-2zM521 561h1v1h-1zM189 561h1v2h-1zM255 561h1v2h-1zM594 562h2v1h-2zM227 562h4v1h-4zM547 562h1v1h-1zM576 562h1v1h-1zM520 562h1v2h-1zM39 562h1v2h-1zM86 562h1v2h-1zM575 563h1v1h-1zM548 563h2v1h-2zM256 563h1v1h-1zM188 563h1v1h-1zM596 563h1v2h-1zM550 564h1v1h-1zM38 564h1v1h-1zM257 564h1v1h-1zM574 564h1v1h-1zM187 564h1v1h-1zM519 564h1v1h-1zM87 564h1v2h-1zM551 565h2v1h-2zM597 565h1v1h-1zM186 565h1v1h-1zM37 565h1v2h-1zM518 565h1v2h-1zM258 565h1v2h-1zM553 566h2v1h-2zM572 566h1v1h-1zM598 566h1v1h-1zM618 566h1v1h-1zM559 566h8v1h-8zM185 566h1v2h-1zM88 566h1v2h-1zM259 567h2v1h-2zM617 567h1v1h-1zM517 567h1v1h-1zM555 567h4v1h-4zM567 567h5v1h-5zM599 567h1v2h-1zM36 567h1v2h-1zM615 568h2v1h-2zM184 568h1v1h-1zM261 568h2v1h-2zM89 568h1v2h-1zM516 568h1v2h-1zM183 569h1v1h-1zM35 569h1v1h-1zM600 569h1v1h-1zM263 569h3v1h-3zM614 569h1v1h-1zM266 570h2v1h-2zM613 570h1v1h-1zM33 570h2v1h-2zM182 570h1v1h-1zM514 570h2v1h-2zM601 570h1v1h-1zM90 570h1v2h-1zM31 571h2v1h-2zM511 571h3v1h-3zM612 571h1v1h-1zM268 571h1v1h-1zM602 571h1v2h-1zM181 571h1v2h-1zM607 572h5v1h-5zM269 572h1v1h-1zM509 572h2v1h-2zM30 572h1v1h-1zM91 572h1v2h-1zM507 573h2v1h-2zM270 573h1v1h-1zM603 573h4v1h-4zM180 573h1v1h-1zM28 573h2v1h-2zM179 574h1v1h-1zM507 574h1v1h-1zM271 574h2v1h-2zM26 574h2v1h-2zM92 574h1v2h-1zM273 575h1v1h-1zM24 575h2v1h-2zM506 575h1v2h-1zM178 575h1v2h-1zM22 576h2v1h-2zM274 576h1v1h-1zM93 576h1v2h-1zM275 577h1v1h-1zM20 577h2v1h-2zM177 577h1v2h-1zM505 577h1v2h-1zM276 578h1v1h-1zM19 578h1v1h-1zM94 578h1v2h-1zM277 579h1v1h-1zM17 579h2v1h-2zM504 579h1v2h-1zM176 579h1v2h-1zM15 580h2v1h-2zM278 580h1v1h-1zM3 580h2v1h-2zM95 580h1v2h-1zM5 581h2v1h-2zM14 581h1v1h-1zM279 581h1v2h-1zM175 581h1v2h-1zM7 582h3v1h-3zM12 582h2v1h-2zM503 581h1v3h-1zM96 582h1v2h-1zM10 583h2v1h-2zM280 583h1v1h-1zM174 583h1v2h-1zM281 584h1v1h-1zM502 584h1v2h-1zM97 584h1v2h-1zM282 585h1v1h-1zM173 585h1v2h-1zM491 586h1v1h-1zM501 586h1v2h-1zM98 586h1v2h-1zM492 587h2v1h-2zM283 586h1v3h-1zM172 587h1v2h-1zM490 587h1v2h-1zM494 588h1v1h-1zM500 588h1v2h-1zM489 589h1v1h-1zM171 589h1v1h-1zM495 589h2v1h-2zM99 588h1v3h-1zM488 590h1v1h-1zM497 590h3v1h-3zM170 590h1v2h-1zM284 589h1v4h-1zM487 591h1v2h-1zM100 591h1v3h-1zM169 592h1v2h-1zM486 593h1v1h-1zM485 594h1v1h-1zM168 594h1v1h-1zM285 593h1v4h-1zM101 594h1v3h-1zM167 595h1v2h-1zM484 595h1v2h-1zM166 597h1v1h-1zM483 597h1v2h-1zM102 597h1v3h-1zM165 598h1v2h-1zM482 599h1v2h-1zM286 597h1v5h-1zM164 600h1v2h-1zM103 600h1v3h-1zM481 601h1v2h-1zM163 602h1v1h-1zM162 603h1v1h-1zM480 603h1v2h-1zM287 602h1v4h-1zM104 603h1v3h-1zM161 604h1v2h-1zM479 605h1v2h-1zM160 606h1v1h-1zM159 607h1v1h-1zM105 606h1v3h-1zM478 607h1v2h-1zM158 608h1v1h-1zM288 606h1v5h-1zM477 609h1v2h-1zM157 609h1v2h-1zM106 609h1v3h-1zM156 611h1v1h-1zM476 611h1v2h-1zM107 612h1v2h-1zM155 612h1v2h-1zM289 611h1v4h-1zM475 613h1v3h-1zM108 614h1v2h-1zM154 614h1v4h-1zM109 616h1v2h-1zM290 615h1v4h-1zM110 618h1v2h-1zM474 616h1v5h-1zM153 618h1v3h-1zM111 620h1v2h-1zM291 619h1v4h-1zM112 622h1v2h-1zM152 621h1v4h-1zM473 621h1v5h-1zM292 623h1v3h-1zM113 624h1v2h-1zM151 625h1v3h-1zM114 626h1v2h-1zM115 628h1v1h-1zM293 626h1v4h-1zM472 626h1v5h-1zM116 629h1v2h-1zM150 628h1v4h-1zM294 630h1v3h-1zM117 631h1v2h-1zM471 631h1v4h-1zM149 632h1v3h-1zM118 633h1v2h-1zM295 633h1v3h-1zM331 635h2v1h-2zM119 635h1v2h-1zM333 636h4v1h-4zM330 636h1v2h-1zM337 637h3v1h-3zM148 635h1v4h-1zM296 636h1v3h-1zM120 637h1v2h-1zM329 638h1v1h-1zM339 638h1v1h-1zM470 635h1v5h-1zM340 639h1v2h-1zM328 639h1v2h-1zM121 639h1v2h-1zM147 639h1v3h-1zM327 641h1v1h-1zM297 639h1v4h-1zM122 641h1v2h-1zM341 642h1v2h-1zM326 642h1v2h-1zM146 642h1v2h-1zM469 640h1v5h-1zM123 643h1v2h-1zM325 644h1v1h-1zM298 643h1v3h-1zM145 644h1v2h-1zM342 644h1v2h-1zM324 645h1v2h-1zM124 645h1v2h-1zM144 646h1v2h-1zM323 647h1v1h-1zM299 646h1v3h-1zM343 646h1v3h-1zM125 647h1v2h-1zM322 648h1v1h-1zM468 645h1v5h-1zM143 648h1v3h-1zM126 649h1v2h-1zM344 649h1v2h-1zM321 649h1v2h-1zM300 649h1v2h-1zM320 651h1v1h-1zM301 651h1v2h-1zM127 651h1v2h-1zM142 651h1v2h-1zM319 652h1v1h-1zM345 651h1v3h-1zM318 653h1v1h-1zM467 650h1v5h-1zM128 653h1v2h-1zM141 654h1v1h-1zM302 653h1v3h-1zM346 654h1v2h-1zM317 654h1v2h-1zM129 655h1v2h-1zM140 655h1v2h-1zM303 656h1v2h-1zM315 657h1v1h-1zM139 657h1v1h-1zM466 655h1v4h-1zM347 656h1v3h-1zM130 657h1v2h-1zM314 658h1v1h-1zM137 658h3v1h-3zM313 659h1v1h-1zM131 659h1v1h-1zM133 659h4v1h-4zM304 658h1v3h-1zM348 659h1v2h-1zM131 660h2v1h-2zM312 660h1v1h-1zM465 659h1v4h-1zM349 661h1v2h-1zM305 661h1v2h-1zM311 661h1v2h-1zM310 663h1v1h-1zM306 663h1v2h-1zM309 664h1v1h-1zM350 663h1v3h-1zM307 665h2v1h-2zM464 663h1v4h-1zM307 666h1v1h-1zM351 666h1v2h-1zM463 667h1v4h-1zM352 668h1v3h-1zM353 671h1v2h-1zM462 671h1v4h-1zM354 673h1v2h-1zM355 675h1v3h-1zM461 675h1v4h-1zM417 678h3v1h-3zM356 678h1v2h-1zM413 679h4v1h-4zM420 679h1v1h-1zM411 680h2v1h-2zM451 680h1v1h-1zM421 680h1v1h-1zM460 679h1v3h-1zM357 680h1v2h-1zM452 681h2v1h-2zM422 681h1v1h-1zM450 681h1v1h-1zM410 681h1v2h-1zM449 682h1v1h-1zM454 682h2v1h-2zM423 682h1v2h-1zM358 682h1v2h-1zM456 683h2v1h-2zM409 683h1v1h-1zM448 683h1v1h-1zM459 683h1v1h-1zM424 684h1v1h-1zM408 684h1v1h-1zM458 684h2v1h-2zM447 684h1v1h-1zM425 685h1v1h-1zM446 685h1v1h-1zM359 684h1v3h-1zM407 685h1v2h-1zM426 686h1v1h-1zM427 687h4v1h-4zM406 687h1v1h-1zM360 687h1v2h-1zM405 688h1v1h-1zM431 688h13v1h-13zM361 689h1v2h-1zM404 689h1v2h-1zM403 691h1v1h-1zM362 691h1v2h-1zM401 692h2v1h-2zM363 693h1v1h-1zM400 693h1v1h-1zM363 694h2v1h-2zM399 694h1v1h-1zM397 695h2v1h-2zM365 695h2v1h-2zM396 696h1v1h-1zM367 696h3v1h-3zM391 697h5v1h-5zM370 697h5v1h-5zM386 698h3v1h-3zM375 698h4v1h-4zM380 698h3v1h-3z"/></g>
<g><text x="709.3" y="22" fill="#000" stroke="#000" textLength="32" lengthAdjust="spacingAndGlyphs">1.33540</text><text x="709.3" y="55" fill="#000" stroke="#000" textLength="32" lengthAdjust="spacingAndGlyphs">1.33155</text><text x="709.3" y="88" fill="#000" stroke="#000" textLength="32" lengthAdjust="spacingAndGlyphs">1.32770</text><text x="709.3" y="121" fill="#000" stroke="#000" textLength="32" lengthAdjust="spacingAndGlyphs">1.32385</text><text x="709.3" y="154" fill="#000" stroke="#000" textLength="32" lengthAdjust="spacingAndGlyphs">1.32000</text><text x="709.3" y="187" fill="#000" stroke="#000" textLength="32" lengthAdjust="spacingAndGlyphs">1.31620</text><text x="709.3" y="220" fill="#000" stroke="#000" textLength="32" lengthAdjust="spacingAndGlyphs">1.31235</text><text x="709.3" y="253" fill="#000" stroke="#000" textLength="32" lengthAdjust="spacingAndGlyphs">1.30850</text><text x="709.3" y="286" fill="#000" stroke="#000" textLength="32" lengthAdjust="spacingAndGlyphs">1.30465</text><text x="709.3" y="319" fill="#000" stroke="#000" textLength="32" lengthAdjust="spacingAndGlyphs">1.30080</text><text x="709.3" y="352" fill="#000" stroke="#000" textLength="32" lengthAdjust="spacingAndGlyphs">1.29700</text><rect x="705" y="13" width="41" height="11" fill="#90ee90" shape-rendering="crispEdges"/><text x="709.5" y="22" fill="#fff" stroke="#fff" textLength="32" lengthAdjust="spacingAndGlyphs">1.33525</text><rect x="705" y="65" width="41" height="11" fill="#90ee90" shape-rendering="crispEdges"/><text x="709.5" y="74" fill="#fff" stroke="#fff" textLength="32" lengthAdjust="spacingAndGlyphs">1.32925</text><rect x="705" y="93" width="41" height="11" fill="#90ee90" shape-rendering="crispEdges"/><text x="709.5" y="102" fill="#fff" stroke="#fff" textLength="32" lengthAdjust="spacingAndGlyphs">1.32600</text><rect x="705" y="116" width="41" height="11" fill="#90ee90" shape-rendering="crispEdges"/><text x="709.5" y="125" fill="#fff" stroke="#fff" textLength="32" lengthAdjust="spacingAndGlyphs">1.32325</text><rect x="705" y="136" width="41" height="11" fill="#90ee90" shape-rendering="crispEdges"/><text x="709.5" y="145" fill="#fff" stroke="#fff" textLength="32" lengthAdjust="spacingAndGlyphs">1.32100</text><rect x="705" y="170" width="41" height="11" fill="#90ee90" shape-rendering="crispEdges"/><text x="709.5" y="179" fill="#fff" stroke="#fff" textLength="32" lengthAdjust="spacingAndGlyphs">1.31700</text><rect x="705" y="192" width="41" height="11" fill="#90ee90" shape-rendering="crispEdges"/><text x="709.5" y="201" fill="#fff" stroke="#fff" textLength="32" lengthAdjust="spacingAndGlyphs">1.31450</text><rect x="705" y="213" width="41" height="11" fill="#90ee90" shape-rendering="crispEdges"/><text x="709.5" y="222" fill="#fff" stroke="#fff" textLength="32" lengthAdjust="spacingAndGlyphs">1.31200</text><rect x="705" y="230" width="41" height="11" fill="#90ee90" shape-rendering="crispEdges"/><text x="709.5" y="239" fill="#fff" stroke="#fff" textLength="32" lengthAdjust="spacingAndGlyphs">1.31000</text><rect x="705" y="258" width="41" height="11" fill="#90ee90" shape-rendering="crispEdges"/><text x="709.5" y="267" fill="#fff" stroke="#fff" textLength="32" lengthAdjust="spacingAndGlyphs">1.30675</text><rect x="705" y="278" width="41" height="11" fill="#90ee90" shape-rendering="crispEdges"/><text x="709.5" y="287" fill="#fff" stroke="#fff" textLength="32" lengthAdjust="spacingAndGlyphs">1.30450</text><rect x="705" y="312" width="41" height="11" fill="#90ee90" shape-rendering="crispEdges"/><text x="709.5" y="321" fill="#fff" stroke="#fff" textLength="32" lengthAdjust="spacingAndGlyphs">1.30050</text><rect x="705" y="338" width="41" height="11" fill="#90ee90" shape-rendering="crispEdges"/><text x="709.5" y="347" fill="#fff" stroke="#fff" textLength="32" lengthAdjust="spacingAndGlyphs">1.29750</text><rect x="705" y="33" width="41" height="11" fill="#008000" shape-rendering="crispEdges"/><text x="709.5" y="42" fill="#fff" stroke="#fff" textLength="32" lengthAdjust="spacingAndGlyphs">1.33300</text><rect x="705" y="44" width="41" height="11" fill="#000" shape-rendering="crispEdges"/><text x="709.5" y="53" fill="#fff" stroke="#fff" textLength="32" lengthAdjust="spacingAndGlyphs">1.33179</text><text x="707" y="364" fill="#000" stroke="#000" textLength="38" lengthAdjust="spacingAndGlyphs">0.005132</text><text x="707" y="474" fill="#000" stroke="#000" textLength="19" lengthAdjust="spacingAndGlyphs">0.00</text><text x="707" y="529" fill="#000" stroke="#000" textLength="42" lengthAdjust="spacingAndGlyphs">-0.002729</text><text x="707" y="545" fill="#000" stroke="#000" textLength="15.5" lengthAdjust="spacingAndGlyphs">100</text><text x="706" y="574" fill="#000" stroke="#000" textLength="11" lengthAdjust="spacingAndGlyphs">80</text><text x="706" y="679" fill="#000" stroke="#000" textLength="11" lengthAdjust="spacingAndGlyphs">20</text><text x="706.5" y="707" fill="#000" stroke="#000" textLength="5.5" lengthAdjust="spacingAndGlyphs">0</text><text x="18.5" y="14" fill="#000" stroke="#000" textLength="54" lengthAdjust="spacingAndGlyphs">GBPUSD,H4</text><text x="78.6" y="14" fill="#000" stroke="#000" textLength="33" lengthAdjust="spacingAndGlyphs">1.33247</text><text x="114.6" y="14" fill="#000" stroke="#000" textLength="33" lengthAdjust="spacingAndGlyphs">1.33269</text><text x="150.4" y="14" fill="#000" stroke="#000" textLength="33" lengthAdjust="spacingAndGlyphs">1.33076</text><text x="186.9" y="14" fill="#000" stroke="#000" textLength="33" lengthAdjust="spacingAndGlyphs">1.33179</text><text x="7.2" y="366" fill="#000" stroke="#000" textLength="148" lengthAdjust="spacingAndGlyphs">MACD(12,26,9) 0.004775 0.004296</text><text x="7.1" y="547" fill="#000" stroke="#000" textLength="128" lengthAdjust="spacingAndGlyphs">Stoch(13,3,3) 82.6488 80.0556</text><text x="2.5" y="723" fill="#000" stroke="#000" textLength="52" lengthAdjust="spacingAndGlyphs">17 Aug 2016</text><text x="66.5" y="723" fill="#000" stroke="#000" textLength="55.5" lengthAdjust="spacingAndGlyphs">18 Aug 20:00</text><text x="130.5" y="723" fill="#000" stroke="#000" textLength="55.5" lengthAdjust="spacingAndGlyphs">22 Aug 04:00</text><text x="194.5" y="723" fill="#000" stroke="#000" textLength="55.5" lengthAdjust="spacingAndGlyphs">23 Aug 12:00</text><text x="258.5" y="723" fill="#000" stroke="#000" textLength="55.5" lengthAdjust="spacingAndGlyphs">24 Aug 20:00</text><text x="322.5" y="723" fill="#000" stroke="#000" textLength="55.5" lengthAdjust="spacingAndGlyphs">26 Aug 04:00</text><text x="386.5" y="723" fill="#000" stroke="#000" textLength="55.5" lengthAdjust="spacingAndGlyphs">29 Aug 12:00</text><text x="450.5" y="723" fill="#000" stroke="#000" textLength="55.5" lengthAdjust="spacingAndGlyphs">30 Aug 20:00</text><text x="514.5" y="723" fill="#000" stroke="#000" textLength="49.5" lengthAdjust="spacingAndGlyphs">1 Sep 04:00</text><text x="578.5" y="723" fill="#000" stroke="#000" textLength="49.5" lengthAdjust="spacingAndGlyphs">2 Sep 12:00</text><path fill="#000" d="M6 9h7l-3.5 4z"/></g>
</svg></body></html>
